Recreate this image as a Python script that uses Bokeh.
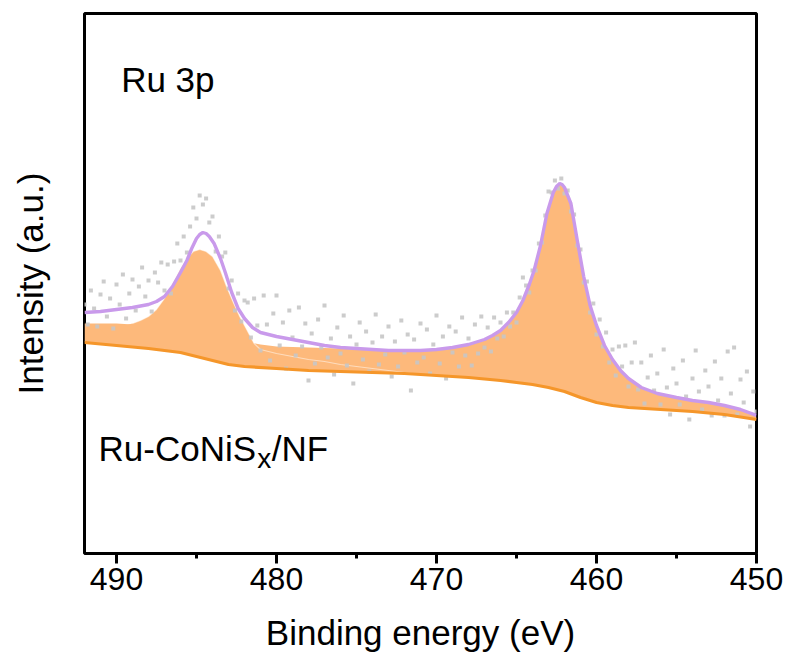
import numpy as np
from bokeh.plotting import figure
from bokeh.models import Range1d, FixedTicker, Label
from bokeh.embed import file_html
from bokeh.resources import INLINE

# ---- data (binding energy in eV, intensity in arbitrary units) ----
x_ticks = [490, 480, 470, 460, 450]
x_minor = [485, 475, 465, 455]

base_x = [492, 490, 488, 486, 485, 484, 483, 482, 480, 478, 476, 474, 472, 470, 468, 466,
          465, 464, 463, 462, 461, 460, 459, 458, 457, 456, 454, 452, 450]
base_y = [211, 208, 205, 201, 197, 193, 189, 187, 185, 183, 182, 181, 180, 178, 176, 173,
          171, 169, 166, 162, 156, 151, 148, 146, 145, 144, 142, 139, 134]

env_x = [492, 491, 490, 489, 488, 487.5, 487, 486.5, 486, 485.6, 485.3, 485, 484.8, 484.6, 484.4,
         484.2, 483.9, 483.5, 483.2, 482.8, 482.4, 482, 481.5, 481, 480, 479, 478, 477, 476, 475,
         474, 473, 472, 471, 470, 469, 468, 467, 466.5, 466, 465.5, 465, 464.6, 464.2, 463.9,
         463.5, 463.1, 462.7, 462.5, 462.3, 462.15, 462, 461.6, 461.2, 460.8, 460.4, 460, 459.5,
         459, 458.5, 458, 457.2, 456.2, 455, 454, 453, 452, 451, 450]
env_y = [241, 242, 244, 246, 249, 252, 257, 267, 281, 293, 305, 315, 319, 321, 320,
         317, 310, 295, 281, 261, 245, 235, 226, 221, 217, 214, 211, 208, 206, 205,
         204, 203, 203, 203, 204, 206, 209, 214, 218, 223, 231, 241, 253, 269, 283,
         308, 340, 361, 367, 370, 369, 366, 350, 313, 277, 248, 228, 208,
         194, 183, 175, 166, 160, 156, 153, 151, 148, 144, 138]

# component around 462 eV (with broad tail) - top of the filled area
f2_x = [492, 490, 488, 486, 484, 482, 481, 480, 478, 476, 474, 472, 470, 469, 468, 467, 466.5,
        466, 465.5, 465, 464.6, 464.2, 463.9, 463.5, 463.1, 462.7, 462.3, 462, 461.6, 461.2,
        460.8, 460.4, 460, 459.5, 459, 458.5, 458, 457.2, 456.2, 455, 454, 453, 452, 451, 450]
f2_y = [230, 230, 228, 224, 218, 212, 209, 207, 206, 205, 203, 202, 203, 205, 208, 213, 217,
        222, 230, 240, 252, 268, 282, 307, 339, 360, 369, 365, 349, 312,
        276, 247, 227, 207, 193, 182, 174, 165, 159, 155, 152, 150, 147, 143, 137]

# component around 484.7 eV
f1_x = [491, 490, 489, 488.5, 488, 487.5, 487, 486.5, 486, 485.6, 485.2, 484.8, 484.4, 484,
        483.5, 483.1, 482.7, 482.3, 481.8, 481.4, 481, 480, 479, 478, 477, 476, 475, 474,
        473, 472, 471, 470]
f1_y = [224, 226, 230, 233, 237, 244, 255, 269, 285, 295, 302, 304, 302, 297,
        283, 266, 251, 237, 222, 210, 204, 200, 197, 194, 192, 189, 187, 185,
        183, 181, 179, 178]

# raw counts, 0.2 eV step from 492 to 450 eV
raw_y = [249, 229, 263, 245, 227, 259, 272, 237, 255, 225, 269, 249, 279, 235, 260, 274, 243,
         267, 286, 257, 273, 242, 281,
         271, 291, 263, 289, 260, 292, 310, 293, 317, 301, 327, 346, 335, 358, 349, 355, 331,
         337, 302, 317, 297, 301, 265, 273, 243, 260, 232, 253,
         251, 216, 255, 228, 203, 258, 229, 193, 240, 258,
         208, 231, 185, 243, 216, 198, 246, 207, 230, 173,
         220, 190, 234, 206, 248, 196, 215, 179, 226, 200,
         238, 188, 217, 170, 209, 231, 194, 222, 182, 211,
         239, 189, 217, 199, 227, 177, 212, 187, 233, 201,
         219, 163, 214, 191, 230, 196, 224, 180, 209, 238,
         190, 217, 175, 227, 201, 222, 187, 236, 198, 215,
         188, 229, 200, 237, 206, 226, 202, 236, 215,
         231, 217, 241, 227, 241, 231, 256, 276, 268, 261, 283, 283, 310, 311, 338, 362, 361,
         373, 365, 375, 360, 363, 342, 339, 308, 304, 271, 272, 241, 250, 219, 234, 207, 221, 191,
         204, 178, 207, 187, 208, 167, 191, 211, 164, 191, 150, 176, 198, 163, 180, 149, 204,
         166, 139, 185, 170, 149, 193, 157, 134, 175, 203, 162, 144, 183, 167, 138, 192, 153,
         175, 138, 202, 160, 206, 139, 174, 151, 182, 127, 162, 142]
raw_x = np.linspace(492.0, 450.0, 211)
assert len(raw_y) == len(raw_x)

FONT = "Liberation Sans"
FILL = "#FDB97B"
ORANGE = "#F5962A"
PURPLE = "#C99AEB"

p = figure(frame_width=672, frame_height=540,
           x_range=Range1d(492, 450), y_range=Range1d(0, 540),
           output_backend="svg", toolbar_location=None,
           min_border_left=84, min_border_top=13, min_border_right=28, min_border_bottom=0)
p.background_fill_color = "white"
p.border_fill_color = "white"
p.xgrid.visible = False
p.ygrid.visible = False
p.outline_line_color = "black"
p.outline_line_width = 3
p.outline_line_alpha = 1.0

# filled components
rb_x = list(reversed(base_x))
rb_y = list(reversed(base_y))
p.patch(f2_x + rb_x, f2_y + rb_y, fill_color=FILL, line_color=None)
sel = [i for i, xv in enumerate(base_x) if 470 <= xv <= 491]
p.patch(f1_x + [base_x[i] for i in reversed(sel)], f1_y + [base_y[i] for i in reversed(sel)],
        fill_color=FILL, line_color=None)
k = f1_x.index(489)
p.line(f1_x[k:], f1_y[k:], line_color="white", line_width=1.2, line_alpha=0.5)

# raw data points
p.scatter(raw_x, raw_y, marker="square", size=4, fill_color="#C6C6C6", line_color=None, alpha=0.9)

# background and envelope
p.line(base_x, base_y, line_color=ORANGE, line_width=3.2)
p.line(env_x, env_y, line_color=PURPLE, line_width=3.4)

# axes
xa = p.xaxis[0]
xa.ticker = FixedTicker(ticks=x_ticks, minor_ticks=x_minor)
xa.axis_line_color = None
xa.major_tick_in = 0
xa.major_tick_out = 10
xa.minor_tick_in = 0
xa.minor_tick_out = 5
xa.major_tick_line_width = 3
xa.minor_tick_line_width = 3
xa.major_tick_line_color = "black"
xa.minor_tick_line_color = "black"
xa.major_label_text_font = FONT
xa.major_label_text_font_size = "32px"
xa.major_label_text_color = "black"
xa.major_label_standoff = 4
xa.axis_label = "Binding energy (eV)"
xa.axis_label_text_font = FONT
xa.axis_label_text_font_size = "35px"
xa.axis_label_text_font_style = "normal"
xa.axis_label_text_color = "black"
xa.axis_label_standoff = 20

ya = p.yaxis[0]
ya.ticker = FixedTicker(ticks=[])
ya.axis_line_color = None
ya.major_tick_line_color = None
ya.minor_tick_line_color = None
ya.major_tick_out = 0
ya.minor_tick_out = 0
ya.major_label_text_font_size = "0px"
ya.major_label_standoff = 0
ya.axis_label = "Intensity (a.u.)"
ya.axis_label_text_font = FONT
ya.axis_label_text_font_size = "35px"
ya.axis_label_text_font_style = "normal"
ya.axis_label_text_color = "black"
ya.axis_label_standoff = 35

# annotations
p.add_layout(Label(x=489.71, y=474, text="Ru 3p", text_font=FONT, text_font_size="35px",
                   text_color="black", text_baseline="alphabetic", text_align="left"))
p.add_layout(Label(x=491.125, y=105, text="Ru-CoNiS", text_font=FONT, text_font_size="35px",
                   text_color="black", text_baseline="alphabetic", text_align="left"))
p.add_layout(Label(x=481.2, y=95, text="x", text_font=FONT, text_font_size="28px",
                   text_color="black", text_baseline="alphabetic", text_align="left"))
p.add_layout(Label(x=480.3, y=105, text="/NF", text_font=FONT, text_font_size="35px",
                   text_color="black", text_baseline="alphabetic", text_align="left"))

open("out.html", "w").write(file_html(p, INLINE))
